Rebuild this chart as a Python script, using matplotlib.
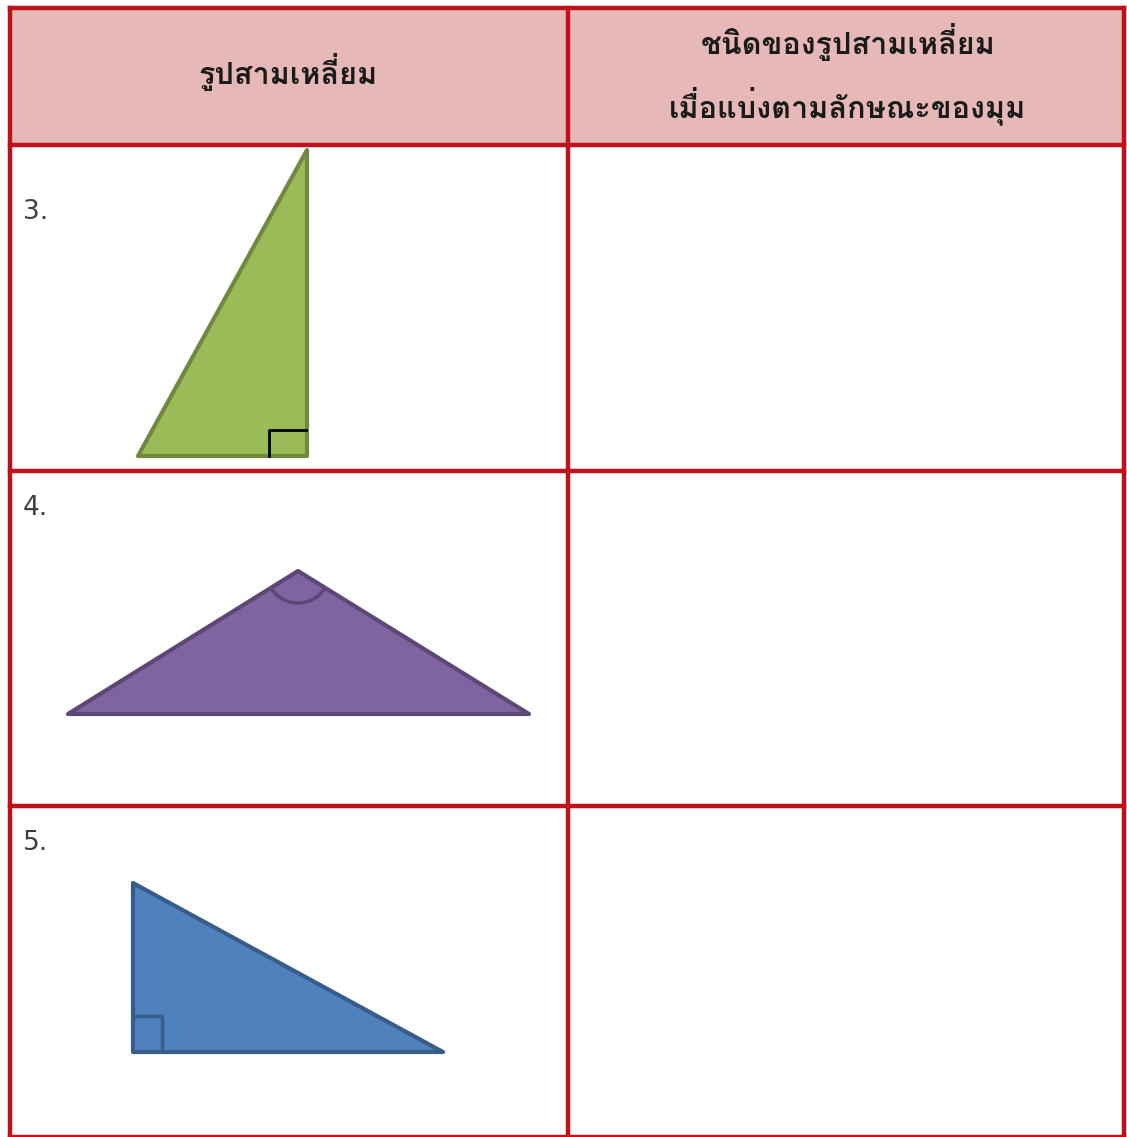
import matplotlib
matplotlib.use("Agg")
import matplotlib.pyplot as plt
from matplotlib import font_manager
from matplotlib.ft2font import FT2Font
from matplotlib.patches import Polygon, Arc, Rectangle

# ข้อมูลตาราง
header_left = "รูปสามเหลี่ยม"
header_right = ["ชนิดของรูปสามเหลี่ยม", "เมื่อแบ่งตามลักษณะของมุม"]
row_labels = ["3.", "4.", "5."]
col_edges = [10, 568, 1124]
row_edges = [8, 145, 471, 806, 1137]

# รูปสามเหลี่ยม (พิกัดพิกเซล)
tri_green = [(138, 456), (307, 456), (307, 150)]
tri_purple = [(68, 714), (529, 714), (298, 571)]
tri_blue = [(133, 1052), (443, 1052), (133, 883)]
fills = ["#9BBB59", "#8064A2", "#4F81BD"]
edges = ["#71893F", "#5C4776", "#385D8A"]


def thai_font():
    # หาฟอนต์ที่มีตัวอักษรไทย
    best = None
    for f in font_manager.fontManager.ttflist:
        try:
            ft = FT2Font(f.fname)
            if ft.get_char_index(ord("ร")) and ft.get_char_index(ord("ี่"[0])):
                if best is None or "Bold" in f.fname or "bold" in f.fname:
                    best = f.name
                    if "Bold" in f.fname:
                        break
        except Exception:
            pass
    return best


tf = thai_font()
fam = [tf, "DejaVu Sans"] if tf else ["DejaVu Sans"]

fig = plt.figure(figsize=(11.27, 11.37), dpi=100)
ax = fig.add_axes([0, 0, 1, 1])
ax.set_xlim(0, 1127)
ax.set_ylim(1137, 0)
ax.axis("off")

red = "#C0101A"
# พื้นหลังหัวตาราง
ax.add_patch(Rectangle((col_edges[0], row_edges[0]), col_edges[-1] - col_edges[0],
                       row_edges[1] - row_edges[0], facecolor="#E6B8B8", edgecolor="none"))
for y in row_edges:
    ax.plot([col_edges[0], col_edges[-1]], [y, y], color=red, lw=3.2, solid_capstyle="projecting")
for x in col_edges:
    ax.plot([x, x], [row_edges[0], row_edges[-1]], color=red, lw=3.2, solid_capstyle="projecting")

ax.text(288, 72, header_left, ha="center", va="center", fontsize=22, family=fam,
        fontweight="bold", color="#1a1a1a")
ax.text(848, 42, header_right[0], ha="center", va="center", fontsize=22, family=fam,
        fontweight="bold", color="#1a1a1a")
ax.text(848, 106, header_right[1], ha="center", va="center", fontsize=22, family=fam,
        fontweight="bold", color="#1a1a1a")

for lab, y in zip(row_labels, [212, 508, 843]):
    ax.text(23, y, lab, ha="left", va="center", fontsize=19, color="#404040")

for tri, fc, ec in zip([tri_green, tri_purple, tri_blue], fills, edges):
    ax.add_patch(Polygon(tri, closed=True, facecolor=fc, edgecolor=ec, lw=3, joinstyle="round"))

# เครื่องหมายมุมฉาก / มุมป้าน
ax.plot([269, 269, 306], [456, 430, 430], color="black", lw=2)
ax.plot([135, 162, 162], [1016, 1016, 1051], color=edges[2], lw=2.5)
ax.add_patch(Arc((298, 571), 64, 64, theta1=32, theta2=148, color=edges[1], lw=2.5))

fig.savefig("out.png", dpi=100)
